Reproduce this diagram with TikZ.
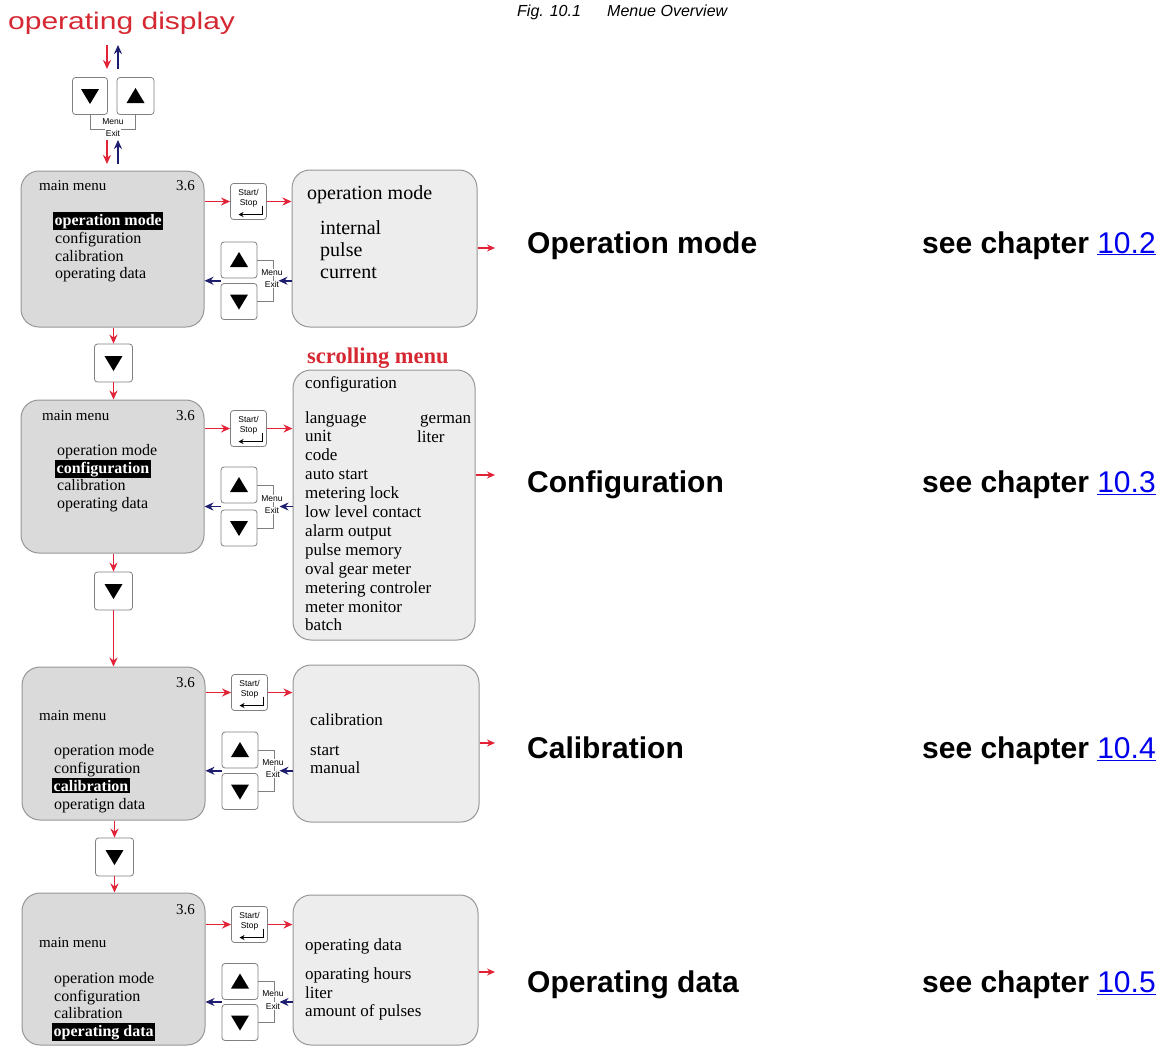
\documentclass[tikz,border=0pt]{standalone}
\usepackage{fontspec}
\setmainfont{Liberation Serif}
\setsansfont{Liberation Sans}
\usetikzlibrary{arrows.meta,calc}
\definecolor{ared}{RGB}{226,35,55}
\definecolor{anavy}{RGB}{30,30,110}
\definecolor{tred}{RGB}{214,40,50}
\definecolor{lnk}{RGB}{0,0,238}
\definecolor{bxline}{RGB}{150,150,150}
\definecolor{mfill}{RGB}{218,218,218}
\definecolor{ofill}{RGB}{237,237,237}
\newcommand\fsz[1]{\fontsize{#1}{#1}\selectfont}
\newcommand\dntri[1]{\fill ([shift={(-9,-7)}]#1.center) -- ([shift={(9,-7)}]#1.center) -- ([shift={(0,8)}]#1.center) -- cycle;}
\newcommand\uptri[1]{\fill ([shift={(-9,7)}]#1.center) -- ([shift={(9,7)}]#1.center) -- ([shift={(0,-8)}]#1.center) -- cycle;}
\begin{document}
\begin{tikzpicture}[x=1pt,y=-1pt,
 mbox/.style={draw=bxline, fill=mfill, rounded corners=18, line width=1pt, inner sep=0},
 obox/.style={draw=bxline, fill=ofill, rounded corners=18, line width=1pt, inner sep=0},
 btn/.style={draw=gray, fill=white, rounded corners=3, line width=0.8pt, minimum width=36, minimum height=36, inner sep=0},
 ra/.style={draw=ared, line width=1.6pt, -{Stealth[length=9pt,width=8pt]}},
 ba/.style={draw=anavy, line width=1.6pt, -{Stealth[length=9pt,width=8pt]}},
 sa/.style={draw=ared, line width=1.4pt, -{Stealth[length=8pt,width=7pt]}},
 tx/.style={anchor=base west, inner sep=0, font=\fsz{16}},
 hd/.style={anchor=base west, inner sep=0, font=\fsz{15}},
 ox/.style={anchor=base west, inner sep=0, font=\fsz{17}},
 hl/.style={anchor=base west, inner sep=1.5pt, fill=black, text=white, font=\fsz{16}\bfseries},
 me/.style={inner sep=0.5pt, fill=white, font=\sffamily\fsz{8.5}},
 sst/.style={inner sep=0, font=\sffamily\fsz{8.5}},
 brk/.style={draw=gray, line width=0.7pt},
 lab/.style={anchor=base west, inner sep=0, font=\sffamily\bfseries\fsz{30}}
]
\useasboundingbox (0,0) rectangle (1169,1047);

\newcommand\ssbtn[2]{%
 \node[btn] (#1) at (#2) {};
 \node[sst] (#1a) at ([shift={(0,-9.5)}]#1.center) {Start/};
 \node[sst] (#1b) at ([shift={(0,1.5)}]#1.center) {Stop};
 \draw[line width=1.6pt, -{Stealth[length=5pt,width=5pt]}] ([shift={(14,4)}]#1.center) -- ([shift={(14,13)}]#1.center) -- ([shift={(-10,13)}]#1.center);}
\newcommand\udbtn[4]{%
 \node[btn] (#1) at (#3) {}; \uptri{#1}
 \node[btn] (#2) at (#4) {}; \dntri{#2}
 \draw[brk] (#1.east) -- ++(16,0) |- (#2.east);
 \coordinate (#1m) at ($(#1.center)!0.5!(#2.center)$);
 \node[me] (#1me) at ([shift={(33,-8)}]#1m) {Menu};
 \node[me] (#1ex) at ([shift={(33,4)}]#1m) {Exit};}

% ---------- caption ----------
\node[anchor=base west, inner sep=0, font=\sffamily\itshape\fsz{16}] (figno) at (517,16) {Fig. 10.1};
\node[anchor=base west, inner sep=0, font=\sffamily\itshape\fsz{16}] (figt) at (607,16) {Menue Overview};

% ---------- top ----------
\node[anchor=base west, inner sep=0, text=tred, font=\sffamily\fsz{24}] (title) at (8,29) {\scalebox{1.25}[1]{operating display}};
\node[btn, minimum width=35, minimum height=37] (TD) at (90,96) {}; \dntri{TD}
\node[btn, minimum width=37, minimum height=37] (TU) at (135.5,96) {}; \uptri{TU}
\draw[brk] (TD.south) -- ++(0,14) -| (TU.south);
\node[me] (tme) at (113,122) {Menu};
\node[me] (tex) at (113,133) {Exit};
\coordinate (r1s) at (107,45); \coordinate (r1e) at (107,69);
\coordinate (b1s) at (118,69); \coordinate (b1e) at (118,45);
\draw[ra] (r1s) -- (r1e);
\draw[ba] (b1s) -- (b1e);
\coordinate (r2s) at (107,140); \coordinate (r2e) at (107,164);
\coordinate (b2s) at (118,164); \coordinate (b2e) at (118,140);
\draw[ra] (r2s) -- (r2e);
\draw[ba] (b2s) -- (b2e);

% ---------- row 1 ----------
\node[mbox, minimum width=183, minimum height=156] (M1) at (112.5,249) {};
\node[hd] (M1h) at (39,190) {main menu};
\node[hd] (M1v) at (176,190) {3.6};
\node[hl] (M1a) at (53,225) {operation mode};
\node[tx] (M1b) at (55,243) {configuration};
\node[tx] (M1c) at (55,261) {calibration};
\node[tx] (M1d) at (55,278) {operating data};
\ssbtn{SS1}{248.5,201.5}
\udbtn{U1}{D1}{239,260}{239,301.5}
\node[obox, minimum width=185, minimum height=157] (O1) at (384.5,248.5) {};
\node[anchor=base west, inner sep=0, font=\fsz{20}] (O1h) at (307,199) {operation mode};
\node[anchor=base west, inner sep=0, font=\fsz{20}] (O1a) at (320,234) {internal};
\node[anchor=base west, inner sep=0, font=\fsz{20}] (O1b) at (320,256) {pulse};
\node[anchor=base west, inner sep=0, font=\fsz{20}] (O1c) at (320,278) {current};
\draw[ra] (M1.east |- SS1) -- (SS1.west);
\draw[ra] (SS1.east) -- (O1.west |- SS1);
\draw[ba] (O1.west |- U1m) -- ([xshift=-13]O1.west |- U1m);
\draw[ba] (U1.west |- U1m) -- (M1.east |- U1m);
\coordinate (a1) at (495,248);
\draw[sa] (O1.east |- a1) -- (a1);
\node[lab] (L1) at (527,253) {Operation mode};
\node[lab] (K1) at (922,253) {see chapter \textcolor{lnk}{\mdseries\underline{10.2}}};

% ---------- row 2 ----------
\node[btn, minimum width=38, minimum height=38] (B1) at (113.5,363) {}; \dntri{B1}
\draw[ra] (M1.south -| B1) -- (B1.north);
\node[mbox, minimum width=183, minimum height=153] (M2) at (112.5,476.5) {};
\draw[ra] (B1.south) -- (M2.north -| B1);
\node[hd] (M2h) at (42,420) {main menu};
\node[hd] (M2v) at (176,420) {3.6};
\node[tx] (M2a) at (57,455) {operation mode};
\node[hl] (M2b) at (55,473) {configuration};
\node[tx] (M2c) at (57,490) {calibration};
\node[tx] (M2d) at (57,508) {operating data};
\ssbtn{SS2}{248.5,428.5}
\udbtn{U2}{D2}{239,485}{239,528}
\node[obox, minimum width=182, minimum height=270] (S) at (384,505) {};
\node[anchor=base west, inner sep=0, text=tred, font=\fsz{22.5}\bfseries] (Sh) at (307,363) {scrolling menu};
\node[ox] (Sc) at (305,388) {configuration};
\foreach \t [count=\i from 0] in {language,unit,code,auto start,metering lock,low level contact,alarm output,pulse memory,oval gear meter,metering controler,meter monitor,batch}
  \node[ox] (S\i) at (305,{423+18.9*\i}) {\t};
\node[ox] (Sg) at (420,423) {german};
\node[ox] (Sl) at (417,442) {liter};
\draw[ra] (M2.east |- SS2) -- (SS2.west);
\draw[ra] (SS2.east) -- (S.west |- SS2);
\draw[ba] (S.west |- U2m) -- ([xshift=-13]S.west |- U2m);
\draw[ba] (U2.west |- U2m) -- (M2.east |- U2m);
\coordinate (a2) at (495,475);
\draw[sa] (S.east |- a2) -- (a2);
\node[lab] (L2) at (527,492) {Configuration};
\node[lab] (K2) at (922,492) {see chapter \textcolor{lnk}{\mdseries\underline{10.3}}};

% ---------- row 3 ----------
\node[btn, minimum width=38, minimum height=38] (B2) at (113.5,591) {}; \dntri{B2}
\draw[ra] (M2.south -| B2) -- (B2.north);
\node[mbox, minimum width=183, minimum height=153] (M3) at (113.5,743.5) {};
\draw[ra] (B2.south) -- (M3.north -| B2);
\node[hd] (M3v) at (176,687) {3.6};
\node[hd] (M3h) at (39,720) {main menu};
\node[tx] (M3a) at (54,755) {operation mode};
\node[tx] (M3b) at (54,773) {configuration};
\node[hl] (M3c) at (52,791) {calibration};
\node[tx] (M3d) at (54,809) {operatign data};
\ssbtn{SS3}{249.5,692.5}
\udbtn{U3}{D3}{240,750}{240,791.5}
\node[obox, minimum width=186, minimum height=157] (C) at (386,743.5) {};
\node[ox] (Ch) at (310,725) {calibration};
\node[ox] (Ca) at (310,755) {start};
\node[ox] (Cb) at (310,773) {manual};
\draw[ra] (M3.east |- SS3) -- (SS3.west);
\draw[ra] (SS3.east) -- (C.west |- SS3);
\draw[ba] (C.west |- U3m) -- ([xshift=-13]C.west |- U3m);
\draw[ba] (U3.west |- U3m) -- (M3.east |- U3m);
\coordinate (a3) at (495,743);
\draw[sa] (C.east |- a3) -- (a3);
\node[lab] (L3) at (527,758) {Calibration};
\node[lab] (K3) at (922,758) {see chapter \textcolor{lnk}{\mdseries\underline{10.4}}};

% ---------- row 4 ----------
\node[btn, minimum width=38, minimum height=38] (B3) at (114.5,857) {}; \dntri{B3}
\draw[ra] (M3.south -| B3) -- (B3.north);
\node[mbox, minimum width=183, minimum height=152] (M4) at (113.5,969) {};
\draw[ra] (B3.south) -- (M4.north -| B3);
\node[hd] (M4v) at (176,914) {3.6};
\node[hd] (M4h) at (39,947) {main menu};
\node[tx] (M4a) at (54,983) {operation mode};
\node[tx] (M4b) at (54,1001) {configuration};
\node[tx] (M4c) at (54,1018) {calibration};
\node[hl] (M4d) at (52,1036) {operating data};
\ssbtn{SS4}{249.5,924.5}
\udbtn{U4}{D4}{240,981.5}{240,1022.5}
\node[obox, minimum width=185, minimum height=150] (OD) at (385.5,970) {};
\node[ox] (ODh) at (305,950) {operating data};
\node[ox] (ODa) at (305,979) {oparating hours};
\node[ox] (ODb) at (305,998) {liter};
\node[ox] (ODc) at (305,1016) {amount of pulses};
\draw[ra] (M4.east |- SS4) -- (SS4.west);
\draw[ra] (SS4.east) -- (OD.west |- SS4);
\draw[ba] (OD.west |- U4m) -- ([xshift=-13]OD.west |- U4m);
\draw[ba] (U4.west |- U4m) -- (M4.east |- U4m);
\coordinate (a4) at (495,972);
\draw[sa] (OD.east |- a4) -- (a4);
\node[lab] (L4) at (527,992) {Operating data};
\node[lab] (K4) at (922,992) {see chapter \textcolor{lnk}{\mdseries\underline{10.5}}};
\end{tikzpicture}
\end{document}
